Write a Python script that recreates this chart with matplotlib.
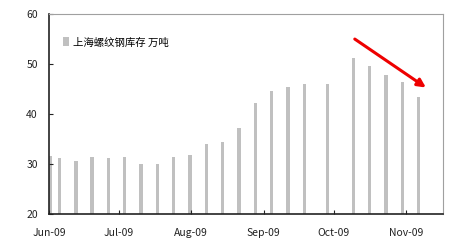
import matplotlib.pyplot as plt
import matplotlib.dates as mdates
import pandas as pd

plt.rcParams['font.family'] = ['Noto Sans CJK SC', 'DejaVu Sans']

# weekly Shanghai rebar stock, 10k tonnes
dates = ['2009-06-01', '2009-06-05', '2009-06-12', '2009-06-19', '2009-06-26',
         '2009-07-03', '2009-07-10', '2009-07-17', '2009-07-24', '2009-07-31',
         '2009-08-07', '2009-08-14', '2009-08-21', '2009-08-28', '2009-09-04',
         '2009-09-11', '2009-09-18', '2009-09-28', '2009-10-09', '2009-10-16',
         '2009-10-23', '2009-10-30', '2009-11-06']
stock = [31.6, 31.3, 30.7, 31.5, 31.3,
         31.5, 30.0, 30.1, 31.5, 31.8,
         34.1, 34.5, 37.3, 42.3, 44.7,
         45.5, 46.0, 46.1, 51.3, 49.7,
         47.9, 46.5, 43.5]
label = '上海螺纹钢库存 万吨'
month_ticks = ['2009-06-01', '2009-07-01', '2009-08-01', '2009-09-01', '2009-10-01', '2009-11-01']

x = pd.to_datetime(dates) + pd.Timedelta(hours=12)

fig = plt.figure(figsize=(4.66, 2.43), dpi=100)
ax = fig.add_axes([0.105, 0.119, 0.846, 0.823])

ax.bar(x, stock, width=1.5, color='#c0c0c0', label=label)

ax.set_xlim(pd.Timestamp('2009-06-01'), pd.Timestamp('2009-11-17'))
ax.set_ylim(20, 60)
ax.set_yticks([20, 30, 40, 50, 60])
ax.set_xticks(pd.to_datetime(month_ticks))
ax.xaxis.set_major_formatter(mdates.DateFormatter('%b-%y'))

ax.tick_params(axis='both', direction='in', length=3, labelsize=7.5, colors='#222222')
ax.tick_params(axis='y', pad=8)
ax.tick_params(axis='x', pad=10)

for s in ['top', 'right']:
    ax.spines[s].set_color('#a0a0a0')
for s in ['left', 'bottom']:
    ax.spines[s].set_color('#222222')
    ax.spines[s].set_linewidth(1.2)

ax.legend(loc='upper left', bbox_to_anchor=(0.025, 0.905), frameon=False,
          fontsize=7.5, handlelength=0.6, handleheight=0.9, handletextpad=0.4,
          borderaxespad=0)

# trend arrow
ax.annotate('', xy=(0.962, 0.625), xytext=(0.77, 0.883), xycoords='axes fraction',
            arrowprops=dict(arrowstyle='-|>', color='#ee0000', lw=2.2, mutation_scale=12))

plt.savefig('out.png', dpi=100)
